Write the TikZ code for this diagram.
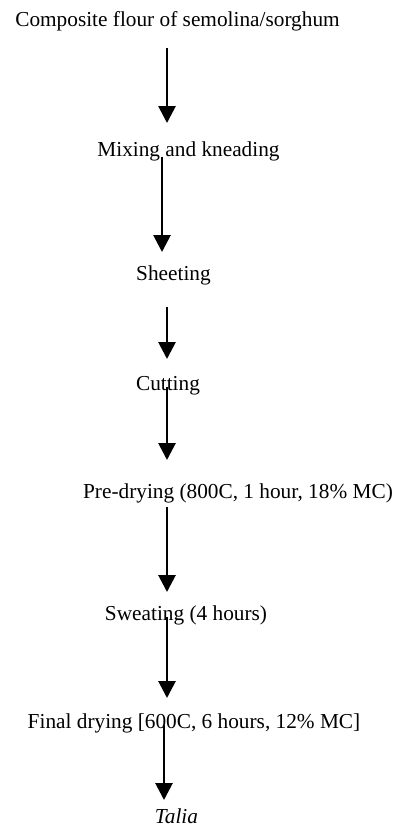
\documentclass[tikz,border=0pt]{standalone}
\usepackage{fontspec}
\setmainfont{Liberation Serif}
\usetikzlibrary{arrows.meta}
\begin{document}
\begin{tikzpicture}[x=1pt,y=-1pt,
  lbl/.style={anchor=base,inner sep=0pt,font=\fontsize{21.3}{24}\selectfont},
  arr/.style={line width=2.8pt,-{Triangle[width=17pt,length=17pt]}}]
\useasboundingbox (0,0) rectangle (395,827);
\node[lbl] (n1) at (177.5,26) {Composite flour of semolina/sorghum};
\node[lbl] (n2) at (188.5,156) {Mixing and kneading};
\node[lbl] (n3) at (173.5,280) {Sheeting};
\node[lbl] (n4) at (168,390) {Cutting};
\node[lbl] (n5) at (238,498) {Pre-drying (800C, 1 hour, 18\% MC)};
\node[lbl] (n6) at (186,620) {Sweating (4 hours)};
\node[lbl] (n7) at (194,728) {Final drying [600C, 6 hours, 12\% MC]};
\node[lbl] (n8) at (176.5,823) {\itshape Talia};
\draw[arr] ([shift={(-10.5pt,-22pt)}]n1.base) -- ([shift={(-21.5pt,33pt)}]n2.base);
\draw[arr] ([shift={(-26.5pt,-1pt)}]n2.base) -- ([shift={(-11.5pt,28pt)}]n3.base);
\draw[arr] ([shift={(-6.5pt,-27pt)}]n3.base) -- ([shift={(-1pt,31pt)}]n4.base);
\draw[arr] ([shift={(-1pt,3pt)}]n4.base) -- ([shift={(-71pt,38pt)}]n5.base);
\draw[arr] ([shift={(-71pt,-9pt)}]n5.base) -- ([shift={(-19pt,28pt)}]n6.base);
\draw[arr] ([shift={(-19pt,3pt)}]n6.base) -- ([shift={(-27pt,30pt)}]n7.base);
\draw[arr] ([shift={(-30pt,3pt)}]n7.base) -- ([shift={(-12.5pt,23pt)}]n8.base);
\end{tikzpicture}
\end{document}
